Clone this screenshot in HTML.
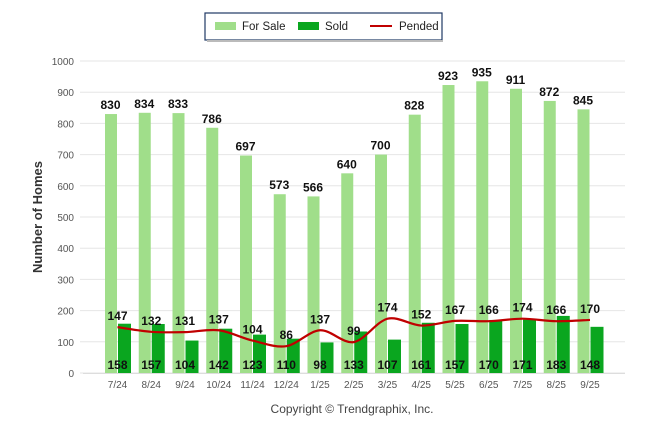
<!DOCTYPE html>
<html><head><meta charset="utf-8"><style>
body{margin:0;background:#fff;font-family:"Liberation Sans",Arial,sans-serif;}
svg text{font-family:"Liberation Sans",Arial,sans-serif;}
</style></head><body>
<svg id="c" width="646" height="434">
<g>
<rect x="205" y="13" width="237" height="27" fill="#fff" stroke="#1f3864" stroke-width="1.2"/>
<line x1="207" y1="41" x2="443" y2="41" stroke="#bbb" stroke-width="2"/>
<rect x="215" y="22" width="21" height="8" fill="#a0de8a"/>
<text x="242" y="30" font-size="11.5" fill="#222">For Sale</text>
<rect x="298" y="22" width="21" height="8" fill="#0aa61f"/>
<text x="325" y="30" font-size="11.5" fill="#222">Sold</text>
<line x1="370" y1="26" x2="392" y2="26" stroke="#c00000" stroke-width="2"/>
<text x="399" y="30" font-size="11.5" fill="#222">Pended</text>
</g>
<text transform="translate(42,217) rotate(-90)" text-anchor="middle" font-size="13" font-weight="bold" fill="#333">Number of Homes</text>
<g id="grid"></g><g id="bars"></g><g id="line"></g><g id="labels"></g>
<text x="352" y="413" text-anchor="middle" font-size="12" fill="#444">Copyright © Trendgraphix, Inc.</text>
</svg>
<script>
const categories=["7/24","8/24","9/24","10/24","11/24","12/24","1/25","2/25","3/25","4/25","5/25","6/25","7/25","8/25","9/25"];
const forSale=[830,834,833,786,697,573,566,640,700,828,923,935,911,872,845];
const sold=[158,157,104,142,123,110,98,133,107,161,157,170,171,183,148];
const pended=[147,132,131,137,104,86,137,99,174,152,167,166,174,166,170];
const yTicks=[0,100,200,300,400,500,600,700,800,900,1000];
const NS="http://www.w3.org/2000/svg";
const y=v=>373-v*0.312;
const x=i=>117.5+i*33.75;
function mk(t,a,p){const e=document.createElementNS(NS,t);for(const k in a)e.setAttribute(k,a[k]);p.appendChild(e);return e;}
const grid=document.getElementById('grid'),bars=document.getElementById('bars'),labels=document.getElementById('labels'),lineG=document.getElementById('line');
yTicks.forEach(v=>{
 const l=mk('line',{x1:80,x2:625,y1:y(v),y2:y(v),stroke:'#e6e6e6','stroke-width':1},grid);
 
 
 const t=mk('text',{x:74,y:y(v)+4,'text-anchor':'end','font-size':10,fill:'#555'},grid);t.textContent=v;
 
 
});
mk('line',{x1:83,x2:625,y1:373.5,y2:373.5,stroke:'#ddd'},grid);
categories.forEach((c,i)=>{
 const cx=x(i);
 const b1=mk('rect',{x:cx-12.5,y:y(forSale[i]),width:12,height:373-y(forSale[i]),fill:'#a0de8a'},bars);
 
 
 const b2=mk('rect',{x:cx+0.5,y:y(sold[i]),width:13,height:373-y(sold[i]),fill:'#0aa61f'},bars);
 
 
 const tl=mk('text',{x:cx,y:388,'text-anchor':'middle','font-size':10,fill:'#555'},grid);tl.textContent=c;
 
 
 const l1=mk('text',{x:cx-7,y:y(forSale[i])-5,'text-anchor':'middle','font-size':12,'font-weight':'bold',fill:'#111'},labels);l1.textContent=forSale[i];
 
 
 const l2=mk('text',{x:cx,y:369,'text-anchor':'middle','font-size':12,'font-weight':'bold',fill:'#111'},labels);l2.textContent=sold[i];
 
 
 const l3=mk('text',{x:cx,y:y(pended[i])-7,'text-anchor':'middle','font-size':12,'font-weight':'bold',fill:'#111'},labels);l3.textContent=pended[i];
 
 
});
const pts=pended.map((v,i)=>[x(i),y(v)]);
let d='M'+pts[0][0]+','+pts[0][1];
for(let i=0;i<pts.length-1;i++){
 const p0=pts[Math.max(0,i-1)],p1=pts[i],p2=pts[i+1],p3=pts[Math.min(pts.length-1,i+2)];
 const t=0.16;
 d+=` C${p1[0]+(p2[0]-p0[0])*t},${p1[1]+(p2[1]-p0[1])*t} ${p2[0]-(p3[0]-p1[0])*t},${p2[1]-(p3[1]-p1[1])*t} ${p2[0]},${p2[1]}`;
}
const pl=mk('path',{d:d,fill:'none',stroke:'#c00000','stroke-width':2.2},lineG);


</script>
</body></html>
